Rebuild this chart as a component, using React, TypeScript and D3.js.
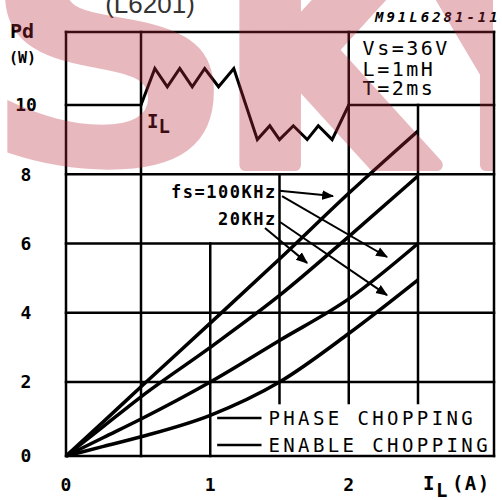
import * as d3 from "d3";

// Pd (W) versus load current IL (A), four curves from the origin
const currents = [0, 0.25, 0.5, 1, 1.5, 2, 2.5];
const phase100k = [0, 0.93, 1.87, 3.7, 5.55, 7.45, 9.25];
const phase20k = [0, 0.8, 1.6, 3.0, 4.5, 6.2, 7.95];
const enable100k = [0, 0.5, 1.0, 2.0, 3.2, 4.4, 6.0];
const enable20k = [0, 0.26, 0.52, 1.1, 2.0, 3.4, 4.95];
const series = [phase100k, phase20k, enable100k, enable20k];

const xTickLabels = ["0", "1", "2"];
const xTickValues = [0, 1, 2];
const yTickValues = [0, 2, 4, 6, 8, 10];
const yTickLabels = ["0", "2", "4", "6", "8", "10"];

// inductor current sketch drawn in the top band
const rippleX = [0.5, 0.6, 0.69, 0.78, 0.87, 0.96, 1.06, 1.17, 1.34, 1.43, 1.5, 1.6, 1.7, 1.78, 1.88, 2.0];
const rippleY = [10, 11, 10.5, 11, 10.5, 11, 10.5, 11, 9, 9.4, 9, 9.4, 9, 9.4, 9, 10];

const boxLines = ["Vs=36V", "L=1mH", "T=2ms"];
const freqLabels = ["fs=100KHz", "20KHz"];
const legendLabels = ["PHASE CHOPPING", "ENABLE CHOPPING"];

// arrows from the frequency labels to the curves: [x1, y1, x2, y2] in A / W
const arrows = [
  [1.5, 7.52, 1.886, 7.37],
  [1.518, 7.37, 2.276, 5.61],
  [1.504, 6.62, 2.276, 4.51],
  [1.395, 6.45, 1.699, 5.44],
];

const W = 502,
  H = 500;

export default function App() {
  const x = d3.scaleLinear().domain([0, 0.5, 2.5, 3]).range([66, 141, 418, 494]);
  const y = d3.scaleLinear().domain([0, 2, 10, 12]).range([456, 382, 105, 32]);

  const curve = d3
    .line<number>()
    .x((_, i) => x(currents[i]))
    .y((d) => y(d))
    .curve(d3.curveMonotoneX);

  const ripple = d3
    .line<number>()
    .x((_, i) => x(rippleX[i]))
    .y((d) => y(d));

  // grid segments: [value, from, to]
  const vGrid = [
    [0, 0, 12],
    [0.5, 0, 12],
    [1, 0, 6],
    [1.5, 1.43, 8],
    [2, 1.43, 12],
    [2.5, 1.43, 10],
    [3, 0, 12],
  ];
  const hGrid = [
    [0, 0, 3],
    [2, 0, 3],
    [4, 0, 3],
    [6, 0, 3],
    [8, 0, 3],
    [10, 0, 0.5],
    [10, 2, 3],
    [12, 0, 3],
  ];

  const mono = "'DejaVu Sans Mono', monospace";

  return (
    <svg
      width={W}
      height={H}
      style={{ position: "absolute", left: 0, top: 0, background: "#fff" }}
    >
      <defs>
        <marker id="head" viewBox="0 0 10 10" refX="9" refY="5" markerWidth="6" markerHeight="6" orient="auto">
          <path d="M0,1 L10,5 L0,9 Z" fill="#000" />
        </marker>
        <clipPath id="wm">
          <rect x={0} y={0} width={493} height={H} />
        </clipPath>
      </defs>

      <text x={150} y={13} textAnchor="middle" fontSize={26} fontFamily="'Liberation Sans', Arial" fill="#333">
        (L6201)
      </text>
      <text
        x={375}
        y={22}
        fontSize={14}
        fontFamily={mono}
        fontWeight="bold"
        fontStyle="italic"
        letterSpacing={3}
        fill="#000"
      >
        M91L6281-11
      </text>

      {/* grid */}
      <g stroke="#000" strokeWidth={2.5} strokeLinecap="square">
        {vGrid.map(([v, a, b], i) => (
          <line key={"v" + i} x1={x(v)} x2={x(v)} y1={y(a)} y2={y(b)} />
        ))}
        {hGrid.map(([v, a, b], i) => (
          <line key={"h" + i} x1={x(a)} x2={x(b)} y1={y(v)} y2={y(v)} />
        ))}
      </g>

      {/* curves */}
      <g fill="none" stroke="#000" strokeWidth={3.5}>
        {series.map((s, i) => (
          <path key={i} d={curve(s) ?? ""} />
        ))}
        <path d={ripple(rippleY) ?? ""} strokeWidth={3} strokeLinejoin="miter" />
      </g>

      {/* arrows */}
      <g stroke="#000" strokeWidth={2}>
        {arrows.map(([x1, y1, x2, y2], i) => (
          <line key={i} x1={x(x1)} y1={y(y1)} x2={x(x2)} y2={y(y2)} markerEnd="url(#head)" />
        ))}
      </g>

      <g fontFamily={mono} fontWeight="bold" fontSize={17} fill="#000">
        {freqLabels.map((t, i) => (
          <text key={t} x={x(1.48)} y={y(i === 0 ? 7.49 : 6.71)} dy="0.35em" textAnchor="end" letterSpacing={1.5}>
            {t}
          </text>
        ))}
      </g>

      {/* conditions box text */}
      <g fontFamily={mono} fontSize={20} fill="#000" letterSpacing={2.5}>
        {boxLines.map((t, i) => (
          <text key={t} x={x(2.1)} y={y([11.56, 10.99, 10.47][i])} dy="0.36em">
            {t}
          </text>
        ))}
      </g>

      {/* legend */}
      <g>
        {legendLabels.map((t, i) => {
          const v = i === 0 ? 1.03 : 0.3;
          return (
            <g key={t}>
              <line x1={x(1.05)} x2={x(1.37)} y1={y(v)} y2={y(v)} stroke="#000" strokeWidth={2.5} />
              <text
                x={x(1.42)}
                y={y(v)}
                dy="0.36em"
                fontFamily={mono}
                fontSize={19}
                letterSpacing={3.4}
                fill="#000"
              >
                {t}
              </text>
            </g>
          );
        })}
      </g>

      {/* axes labels */}
      <g fontFamily={mono} fontWeight="bold" fontSize={18} fill="#000" textAnchor="middle">
        {yTickValues.map((v, i) => (
          <text key={v} x={26} y={y(v)} dy="0.36em">
            {yTickLabels[i]}
          </text>
        ))}
        {xTickValues.map((v, i) => (
          <text key={v} x={x(v)} y={485} dy="0.36em">
            {xTickLabels[i]}
          </text>
        ))}
      </g>
      <g fontFamily={mono} fontWeight="bold" fill="#000">
        <text x={10} y={38} fontSize={20}>Pd</text>
        <text x={9} y={63} fontSize={15}>(W)</text>
        <text x={423} y={490} fontSize={19} letterSpacing={1.5}>
          I<tspan dy={7}>L</tspan>
          <tspan dy={-7} dx={3}>(A)</tspan>
        </text>
        <text x={147} y={128} fontSize={19}>
          I<tspan dy={5}>L</tspan>
        </text>
      </g>

      {/* watermark */}
      <g
        clipPath="url(#wm)"
        fontFamily="'DejaVu Sans', sans-serif"
        fontWeight="bold"
        fill="#b72a3c"
        stroke="#b72a3c"
        strokeLinejoin="round"
        opacity={0.33}
      >
        <text transform="translate(-21,165) scale(1.1,1)" fontSize={330} strokeWidth={0}>S</text>
        <text transform="translate(220,165) scale(0.9,1)" fontSize={300} strokeWidth={12}>K</text>
        <text transform="translate(413,165) scale(0.9,1)" fontSize={300} strokeWidth={12}>Y</text>
      </g>
    </svg>
  );
}
